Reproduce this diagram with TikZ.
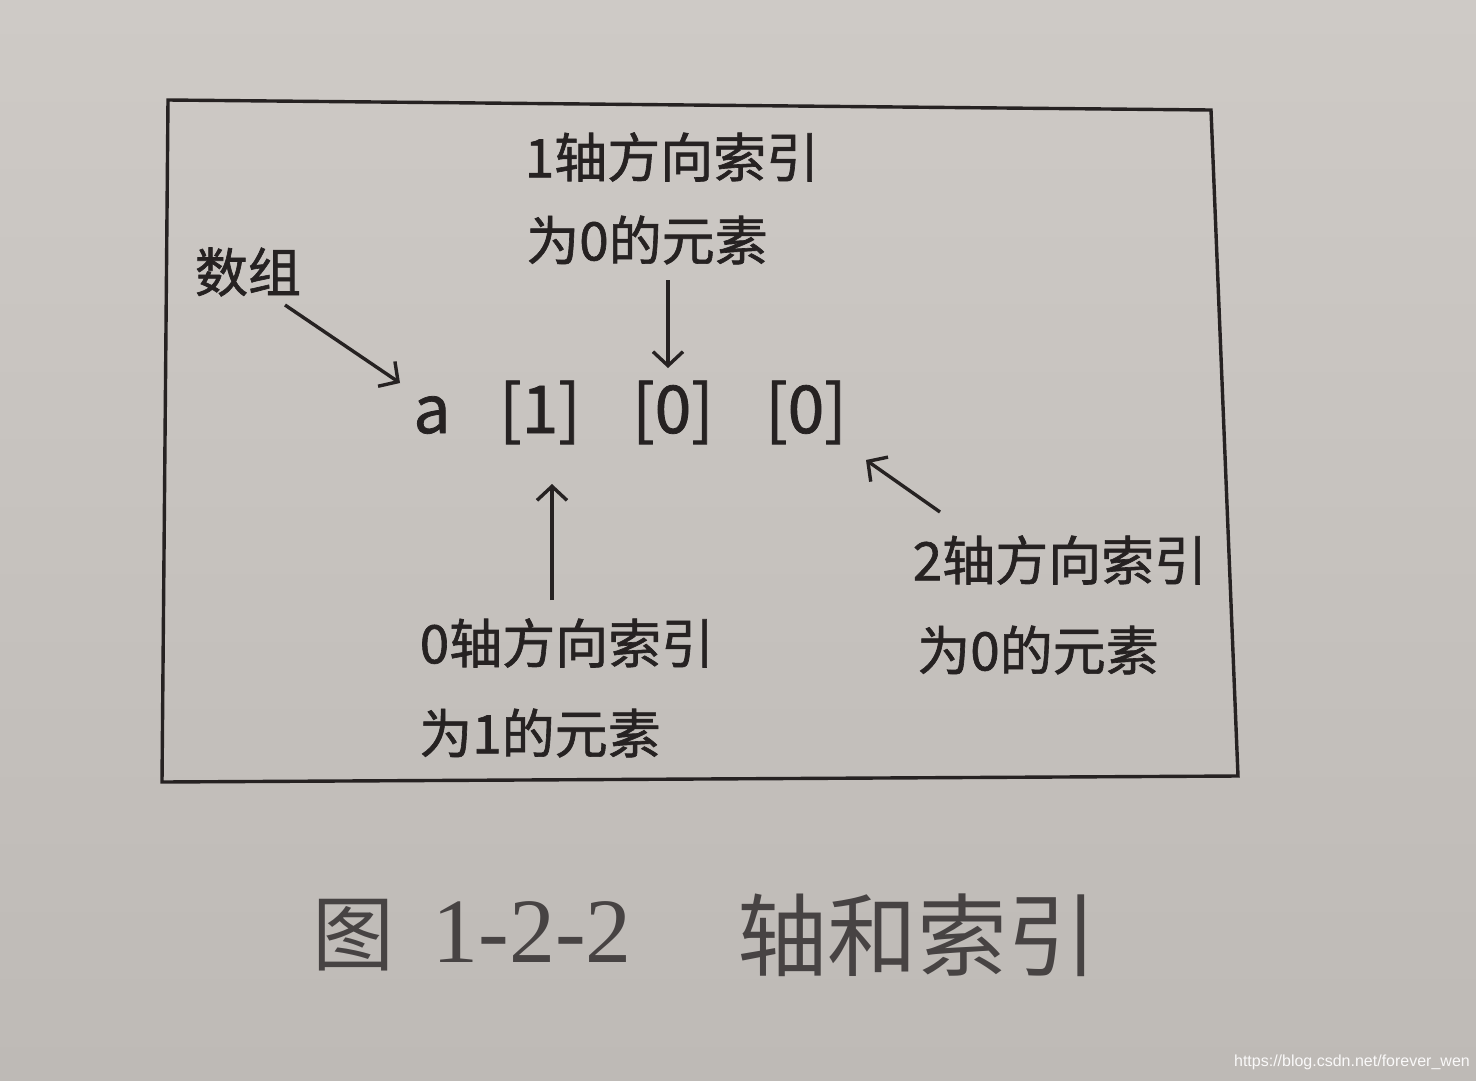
\documentclass[tikz,border=0pt]{standalone}
\usepackage{fontspec}
\setmainfont{Noto Sans CJK SC}
\newfontfamily\lblfont[FakeBold=1.2]{Noto Sans CJK SC}
\newfontfamily\capserif{Liberation Serif}
\newfontfamily\wmfont{Liberation Sans}
\usetikzlibrary{arrows.meta}
\definecolor{paperA}{RGB}{206,202,198}
\definecolor{paperB}{RGB}{190,186,182}
\definecolor{ink}{RGB}{38,34,34}
\tikzset{
  lbl/.style={inner sep=0pt, text=ink, font=\lblfont\fontsize{53}{60}\selectfont},
  expr/.style={inner sep=0pt, text=ink, anchor=base, font=\lblfont\fontsize{66}{70}\selectfont},
  captext/.style={inner sep=0pt, text=ink!85, font=\fontsize{82}{90}\selectfont},
  conn/.style={draw=ink, line width=3.4pt, -{Straight Barb[length=14pt,width=30pt]}},
  frame/.style={draw=ink, line width=3.4pt, line join=miter}
}
\begin{document}
\begin{tikzpicture}[x=1pt,y=-1pt]
\shade[top color=paperA, bottom color=paperB] (0,0) rectangle (1476,1080);
\useasboundingbox (0,0) rectangle (1476,1080);
% frame
\coordinate (tl) at (168,100);
\coordinate (tr) at (1211,110);
\coordinate (br) at (1238,776);
\coordinate (bl) at (162,782);
\draw[frame] (tl) -- (tr) -- (br) -- (bl) -- cycle;
% labels
\node[lbl] (t1a) at (672,157) {1轴方向索引};
\node[lbl] (t1b) at (647,240) {为0的元素};
\node[lbl] (arr) at (248,272) {数组};
\node[lbl] (t0a) at (567,643) {0轴方向索引};
\node[lbl] (t0b) at (540,733) {为1的元素};
\node[lbl] (t2a) at (1060,560) {2轴方向索引};
\node[lbl] (t2b) at (1038,650) {为0的元素};
% expression
\node[expr] (ea) at (432,433) {a};
\node[expr] (e1) at (540,433) {[1]};
\node[expr] (e2) at (673,433) {[0]};
\node[expr] (e3) at (806,433) {[0]};
% arrows
\coordinate (s1) at (285,305); \coordinate (d1) at (400,383);
\coordinate (s2) at (668,280); \coordinate (d2) at (668,368);
\coordinate (s3) at (552,600); \coordinate (d3) at (552,484);
\coordinate (s4) at (940,512); \coordinate (d4) at (866,460);
\draw[conn] (s1) -- (d1);
\draw[conn] (s2) -- (d2);
\draw[conn] (s3) -- (d3);
\draw[conn] (s4) -- (d4);
% caption
\node[captext] (c1) at (353,935) {图};
\node[captext, font=\capserif\fontsize{92}{100}\selectfont] (c2) at (532,932) {1-2-2};
\node[captext, font=\fontsize{90}{100}\selectfont] (c3) at (917,935) {轴和索引};
% watermark
\node[inner sep=0pt, anchor=base east, text=white!92!paperB, font=\wmfont\fontsize{16}{18}\selectfont] (wm) at (1470,1066) {https://blog.csdn.net/forever\_wen};
\end{tikzpicture}
\end{document}
